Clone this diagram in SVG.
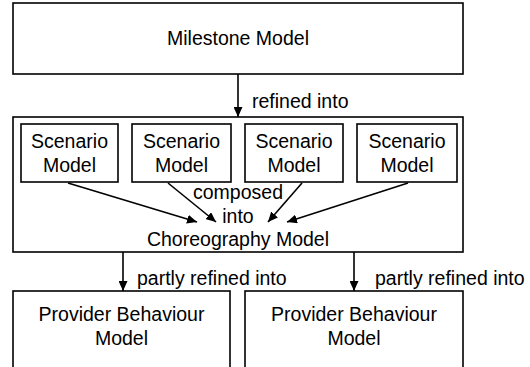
<svg xmlns="http://www.w3.org/2000/svg" width="530" height="367" viewBox="0 0 530 367">
<style>
.b{fill:#fff;stroke:#000;stroke-width:1.6}
text{font-family:"Liberation Sans",Arial,sans-serif;font-size:19.5px;fill:#000}
.c{text-anchor:middle}
.e line{stroke:#000;stroke-width:1.6;marker-end:url(#a)}
</style>
<defs>
<marker id="a" viewBox="0 0 10 10" refX="10" refY="5" markerWidth="10" markerHeight="9" markerUnits="userSpaceOnUse" orient="auto" preserveAspectRatio="none"><path d="M0,0L10,5L0,10z" fill="#000"/></marker>
</defs>
<rect width="530" height="367" fill="#fff"/>
<g id="milestone"><rect class="b" x="13" y="3" width="450" height="71"/><text class="c" x="238" y="45">Milestone Model</text></g>
<g id="choreography"><rect class="b" x="13" y="117" width="450" height="135"/><text class="c" x="238" y="246">Choreography Model</text></g>
<g id="scenario1"><rect class="b" x="21" y="124" width="97" height="58"/><text class="c" x="69.5" y="148">Scenario</text><text class="c" x="69.5" y="172">Model</text></g>
<g id="scenario2"><rect class="b" x="132" y="124" width="99" height="58"/><text class="c" x="181.5" y="148">Scenario</text><text class="c" x="181.5" y="172">Model</text></g>
<g id="scenario3"><rect class="b" x="245" y="124" width="98" height="58"/><text class="c" x="294" y="148">Scenario</text><text class="c" x="294" y="172">Model</text></g>
<g id="scenario4"><rect class="b" x="357" y="124" width="100" height="58"/><text class="c" x="407" y="148">Scenario</text><text class="c" x="407" y="172">Model</text></g>
<g id="provider1"><rect class="b" x="13" y="291" width="217" height="80"/><text class="c" x="121.5" y="321">Provider Behaviour</text><text class="c" x="121.5" y="345">Model</text></g>
<g id="provider2"><rect class="b" x="245" y="291" width="218" height="80"/><text class="c" x="354" y="321">Provider Behaviour</text><text class="c" x="354" y="345">Model</text></g>
<g id="connectors" class="e">
<line x1="238" y1="74" x2="238" y2="117"/>
<line x1="68" y1="183" x2="197" y2="222"/>
<line x1="168" y1="183" x2="216" y2="222"/>
<line x1="302" y1="183" x2="268" y2="222"/>
<line x1="408" y1="183" x2="287" y2="222"/>
<line x1="123" y1="252" x2="123" y2="291"/>
<line x1="354" y1="252" x2="354" y2="291"/>
</g>
<g id="labels">
<text x="252" y="108">refined into</text>
<text class="c" x="238" y="199">composed</text>
<text class="c" x="238" y="223">into</text>
<text x="137" y="285">partly refined into</text>
<text x="375" y="285">partly refined into</text>
</g>
</svg>
